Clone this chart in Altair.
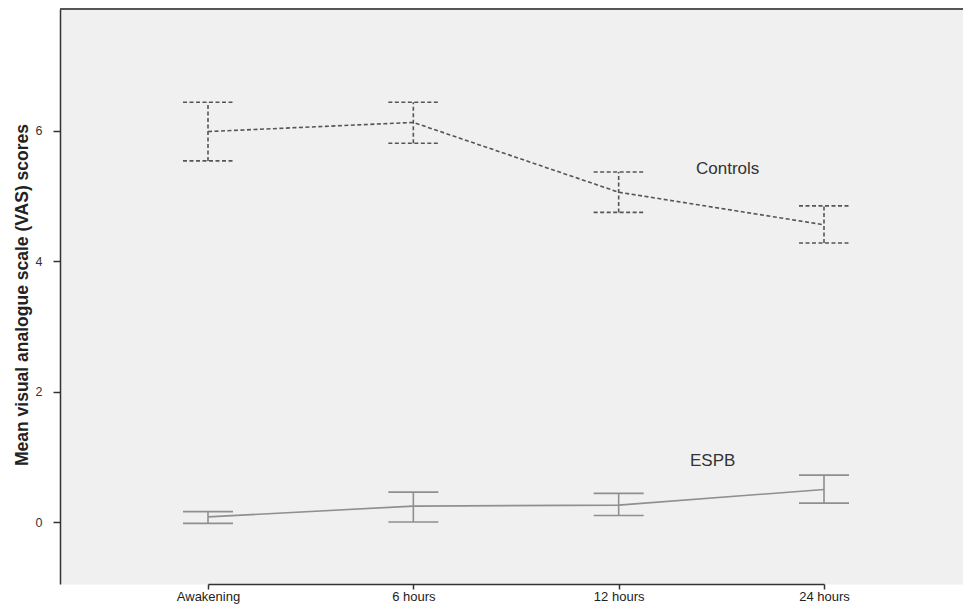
import altair as alt
import pandas as pd

times = ["Awakening", "6 hours", "12 hours", "24 hours"]

controls_mean = [5.99, 6.13, 5.06, 4.56]
controls_lo = [5.54, 5.81, 4.75, 4.28]
controls_hi = [6.44, 6.44, 5.37, 4.85]

espb_mean = [0.08, 0.245, 0.26, 0.50]
espb_lo = [-0.02, 0.0, 0.10, 0.29]
espb_hi = [0.16, 0.46, 0.44, 0.72]

y_ticks = [0, 2, 4, 6]

ctrl = pd.DataFrame({"time": times, "mean": controls_mean, "lo": controls_lo, "hi": controls_hi})
espb = pd.DataFrame({"time": times, "mean": espb_mean, "lo": espb_lo, "hi": espb_hi})

FONT = "Liberation Sans"
W, H = 903, 575

xscale = alt.Scale(type="point", domain=times, range=[148, 764], padding=0)
yscale = alt.Scale(domain=[-0.95, 7.87], nice=False, zero=False)

x_enc = alt.X("time:N", scale=xscale, sort=times,
              axis=alt.Axis(title=None, labelAngle=0, tickSize=5, tickColor="#333",
                            tickWidth=1.5, domainColor="#333", domainWidth=1.5,
                            labelPadding=1, labelFontSize=13, labelColor="#222",
                            labelFont=FONT))
y_enc = alt.Y("mean:Q", scale=yscale,
              axis=alt.Axis(title="Mean visual analogue scale (VAS) scores", values=y_ticks,
                            format="d",
                            grid=False, tickSize=7, tickColor="#333", tickWidth=1.5,
                            domainColor="#333", domainWidth=1.5, labelPadding=11,
                            labelFontSize=12.5, labelColor="#333", labelFont=FONT,
                            titleFont=FONT, titleFontSize=17.5, titleFontWeight="bold",
                            titleColor="#222", titleX=-38, titleY=H / 2 - 2,
                            titleBaseline="middle", titleAngle=-90))


def series(df, color, dash, width):
    base = alt.Chart(df)
    kw = {"strokeDash": dash} if dash else {}
    line = base.mark_line(color=color, strokeWidth=width, **kw).encode(x=x_enc, y=y_enc)
    vbar = base.mark_rule(color=color, strokeWidth=width, **kw).encode(
        x=alt.X("time:N", scale=xscale, sort=times), y=alt.Y("lo:Q", scale=yscale), y2="hi:Q")
    cap_hi = base.mark_rule(color=color, strokeWidth=width, xOffset=-25, x2Offset=25, **kw).encode(
        x=alt.X("time:N", scale=xscale, sort=times), x2="time:N", y=alt.Y("hi:Q", scale=yscale))
    cap_lo = base.mark_rule(color=color, strokeWidth=width, xOffset=-25, x2Offset=25, **kw).encode(
        x=alt.X("time:N", scale=xscale, sort=times), x2="time:N", y=alt.Y("lo:Q", scale=yscale))
    return [line, vbar, cap_hi, cap_lo]


ctrl_layers = series(ctrl, "#555555", [4, 2.5], 1.6)
espb_layers = series(espb, "#8f8f8f", None, 1.6)

labels_ctrl = alt.Chart(pd.DataFrame({"time": ["12 hours"], "y": [5.42], "t": ["Controls"]})).mark_text(
    font=FONT, fontSize=17, color="#333", dx=109).encode(
    x=alt.X("time:N", scale=xscale, sort=times), y=alt.Y("y:Q", scale=yscale), text="t:N")
labels_espb = alt.Chart(pd.DataFrame({"time": ["12 hours"], "y": [0.93], "t": ["ESPB"]})).mark_text(
    font=FONT, fontSize=17, color="#333", dx=94).encode(
    x=alt.X("time:N", scale=xscale, sort=times), y=alt.Y("y:Q", scale=yscale), text="t:N")

top_border = alt.Chart(pd.DataFrame({"a": [0]})).mark_rule(color="#555", strokeWidth=2).encode(
    y=alt.value(0))

chart = alt.layer(*ctrl_layers, *espb_layers, labels_ctrl, labels_espb, top_border).properties(
    width=W, height=H,
    background="white",
    autosize=alt.AutoSizeParams(type="none"),
    padding={"left": 52, "top": 1, "right": 0, "bottom": 21},
).configure_view(stroke="transparent", fill="#f0f0f0")

chart.save("out.html", embed_options={"renderer": "svg", "actions": False})
